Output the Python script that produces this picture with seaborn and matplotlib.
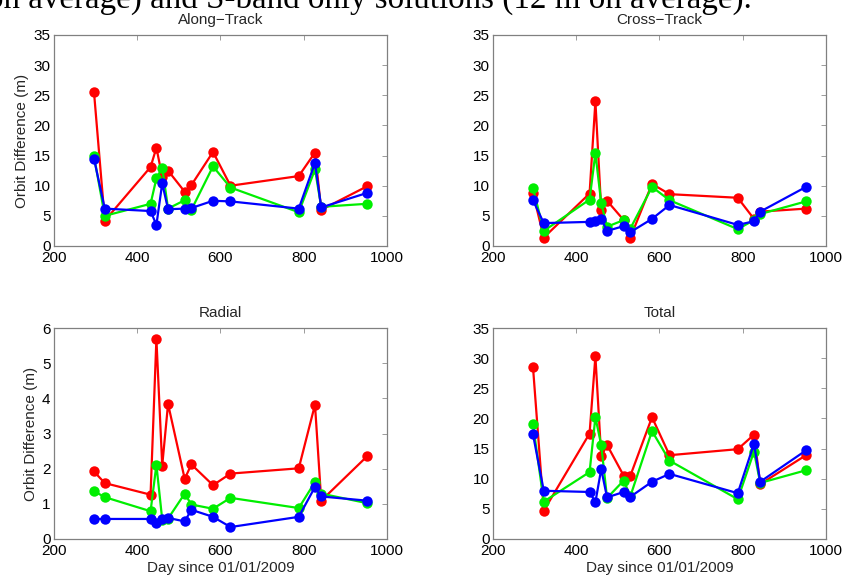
import matplotlib
matplotlib.use("Agg")
import matplotlib.pyplot as plt
import seaborn as sns
import pandas as pd

# Days of each orbit comparison
days = [296, 322, 432, 446, 460, 474, 514, 530, 582, 624, 788, 827, 842, 952]

# Orbit differences (m) for the three solution types, per component
along_red = [25.6, 4.2, 13.1, 16.3, 11.5, 12.5, 9.0, 10.1, 15.6, 10.0, 11.6, 15.5, 6.0, 9.9]
along_green = [14.9, 5.0, 7.0, 11.2, 13.0, 6.2, 7.6, 6.0, 13.2, 9.7, 5.6, 12.7, 6.5, 7.0]
along_blue = [14.5, 6.2, 5.8, 3.5, 10.4, 6.1, 6.2, 6.3, 7.5, 7.4, 6.2, 13.8, 6.4, 8.8]

cross_red = [8.8, 1.4, 8.7, 24.0, 6.0, 7.5, 4.3, 1.4, 10.3, 8.6, 8.0, 4.5, 5.7, 6.2]
cross_green = [9.6, 2.5, 7.7, 15.4, 7.1, 3.2, 4.3, 2.9, 9.8, 7.6, 2.8, 4.3, 5.3, 7.4]
cross_blue = [7.6, 3.8, 4.0, 4.2, 4.5, 2.5, 3.3, 2.3, 4.5, 6.8, 3.5, 4.1, 5.7, 9.8]

radial_red = [1.92, 1.59, 1.26, 5.69, 2.09, 3.84, 1.71, 2.12, 1.53, 1.86, 2.01, 3.82, 1.09, 2.35]
radial_green = [1.36, 1.19, 0.79, 2.11, 0.55, 0.58, 1.29, 0.98, 0.86, 1.17, 0.88, 1.62, 1.29, 1.02]
radial_blue = [0.57, 0.57, 0.57, 0.45, 0.57, 0.60, 0.50, 0.83, 0.63, 0.34, 0.63, 1.48, 1.21, 1.09]

total_red = [28.6, 4.7, 17.5, 30.3, 13.7, 15.6, 10.5, 10.5, 20.2, 13.9, 14.9, 17.3, 9.1, 13.9]
total_green = [19.0, 6.2, 11.1, 20.2, 15.6, 6.8, 9.7, 7.1, 17.9, 13.0, 6.6, 14.5, 9.3, 11.4]
total_blue = [17.4, 8.0, 7.8, 6.1, 11.6, 6.9, 7.8, 7.0, 9.5, 10.8, 7.6, 15.8, 9.5, 14.7]

titles = ["Along\u2212Track", "Cross\u2212Track", "Radial", "Total"]
series_names = ["red", "green", "blue"]
palette = {"red": "#ff0000", "green": "#00ee00", "blue": "#0000ff"}

panels = [
    (along_red, along_green, along_blue),
    (cross_red, cross_green, cross_blue),
    (radial_red, radial_green, radial_blue),
    (total_red, total_green, total_blue),
]

sns.set_theme(style="white")
plt.rcParams["font.family"] = ["Liberation Sans", "DejaVu Sans"]
plt.rcParams["font.size"] = 11

W, H = 845, 576
fig = plt.figure(figsize=(W / 100, H / 100), dpi=100)

# axes boxes in pixels: left, top, right, bottom
boxes = [(54, 35, 387, 246), (493, 35, 826, 246),
         (54, 328, 387, 539), (493, 328, 826, 539)]

for i, (box, title, vals) in enumerate(zip(boxes, titles, panels)):
    l, t, r, b = box
    ax = fig.add_axes([l / W, 1 - b / H, (r - l) / W, (b - t) / H])
    frames = []
    for name, v in zip(series_names, vals):
        frames.append(pd.DataFrame({"day": days, "diff": v, "series": name}))
    df = pd.concat(frames, ignore_index=True)
    sns.lineplot(data=df, x="day", y="diff", hue="series", hue_order=series_names,
                 palette=palette, marker="o", markersize=7.5, markeredgewidth=0,
                 linewidth=1.6, estimator=None, legend=False, ax=ax)
    ax.set_xlim(200, 1000)
    ax.set_xticks([200, 400, 600, 800, 1000])
    if title == "Radial":
        ax.set_ylim(0, 6)
        ax.set_yticks(range(0, 7))
    else:
        ax.set_ylim(0, 35)
        ax.set_yticks(range(0, 36, 5))
    ax.set_title(title, fontsize=11, pad=8)
    ax.set_ylabel("Orbit Difference (m)" if i % 2 == 0 else "", fontsize=11, labelpad=3)
    ax.set_xlabel("Day since 01/01/2009" if i >= 2 else "", fontsize=11, labelpad=2.5)
    ax.tick_params(direction="in", length=3.5, width=0.6, color="0.55",
                   top=True, right=True, labelsize=11, pad=2.5, labelcolor="black")
    ax.tick_params(axis="x", pad=3.5)
    for sp in ax.spines.values():
        sp.set_color("0.5")
        sp.set_linewidth(0.9)

# end of the preceding paragraph's sentence
fig.text(752 / W, 1 - 7.5 / H, "m on average) and S-band only solutions (12 m on average).",
         ha="right", va="baseline", fontsize=23.8,
         family=["Liberation Serif", "DejaVu Serif"], color="black")

fig.savefig("out.png", dpi=100)
